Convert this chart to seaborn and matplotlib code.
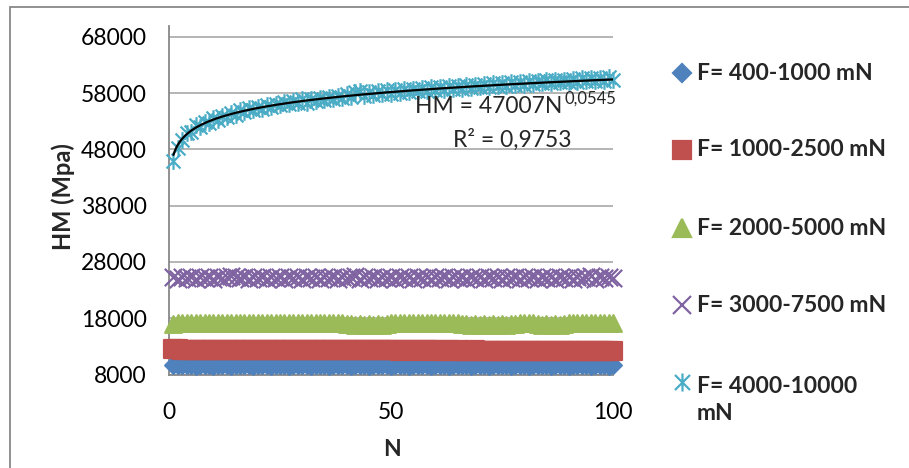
import matplotlib
matplotlib.use('Agg')
import matplotlib.pyplot as plt
from matplotlib.lines import Line2D
from matplotlib.path import Path
from matplotlib.patches import Rectangle
import numpy as np
import pandas as pd
import seaborn as sns

# cycle number
N = list(range(1, 101))

# HM (MPa), one value per cycle
hm_400_1000 = [
    9750, 9650, 9600, 9650, 9600, 9550, 9600, 9650, 9600, 9550,
    9600, 9650, 9600, 9550, 9600, 9650, 9600, 9600, 9550, 9600,
    9650, 9600, 9550, 9600, 9650, 9600, 9550, 9600, 9650, 9600,
    9600, 9550, 9600, 9650, 9600, 9550, 9600, 9650, 9600, 9600,
    9550, 9600, 9650, 9600, 9550, 9600, 9650, 9600, 9600, 9550,
    9600, 9650, 9600, 9550, 9600, 9650, 9600, 9600, 9550, 9600,
    9650, 9600, 9550, 9600, 9650, 9600, 9600, 9550, 9600, 9650,
    9600, 9550, 9600, 9650, 9600, 9600, 9550, 9600, 9650, 9600,
    9550, 9600, 9650, 9600, 9600, 9550, 9600, 9650, 9600, 9550,
    9600, 9650, 9600, 9600, 9550, 9600, 9650, 9600, 9550, 9600,
]
hm_1000_2500 = [
    12550, 12450, 12350, 12400, 12350, 12300, 12350, 12400, 12350, 12300,
    12350, 12400, 12350, 12300, 12350, 12400, 12350, 12300, 12350, 12350,
    12400, 12350, 12300, 12350, 12400, 12350, 12300, 12350, 12400, 12350,
    12300, 12350, 12400, 12350, 12300, 12350, 12350, 12400, 12350, 12300,
    12350, 12400, 12350, 12300, 12350, 12400, 12350, 12300, 12350, 12350,
    12300, 12250, 12300, 12350, 12300, 12250, 12300, 12350, 12300, 12250,
    12300, 12250, 12300, 12250, 12300, 12250, 12200, 12250, 12300, 12250,
    12200, 12250, 12200, 12150, 12200, 12250, 12200, 12150, 12200, 12150,
    12200, 12150, 12200, 12150, 12200, 12150, 12200, 12150, 12200, 12150,
    12200, 12150, 12200, 12150, 12150, 12200, 12150, 12150, 12200, 12150,
]
hm_2000_5000 = [
    17000, 17100, 17150, 17100, 17150, 17100, 17150, 17100, 17150, 17100,
    17150, 17100, 17150, 17100, 17150, 17100, 17150, 17100, 17150, 17100,
    17150, 17100, 17150, 17100, 17150, 17100, 17150, 17100, 17150, 17100,
    17150, 17100, 17150, 17100, 17150, 17100, 17150, 17100, 17150, 17050,
    16900, 16850, 16900, 16850, 16900, 16850, 16900, 16850, 16900, 17100,
    17150, 17100, 17150, 17100, 17150, 17100, 17150, 17100, 17150, 17100,
    17150, 17100, 17150, 17100, 17150, 17050, 16900, 16850, 16900, 16850,
    16900, 16850, 16900, 16850, 16900, 16850, 16900, 16950, 17100, 17150,
    17100, 17150, 16950, 16850, 16900, 16850, 16900, 16850, 16950, 17100,
    17150, 17100, 17150, 17100, 17150, 17100, 17150, 17100, 17150, 17100,
]
hm_3000_7500 = [
    25250, 25050, 25350, 25100, 25300, 25050, 25350, 25100, 25300, 25050,
    25350, 25100, 25400, 25500, 25350, 25100, 25300, 25050, 25350, 25100,
    25300, 25050, 25350, 25100, 25300, 25050, 25350, 25100, 25300, 25050,
    25350, 25100, 25300, 25050, 25350, 25100, 25300, 25050, 25350, 25100,
    25400, 25550, 24950, 25400, 25100, 25300, 25050, 25350, 25100, 25300,
    25050, 25350, 25100, 25300, 25050, 25350, 25100, 25300, 25050, 25350,
    25100, 25300, 25050, 25350, 25100, 25300, 25050, 25350, 25100, 25300,
    25050, 25350, 25100, 25300, 25050, 25350, 25100, 25300, 25050, 25350,
    25100, 25300, 25050, 25350, 25100, 25300, 25050, 25350, 25100, 25300,
    25050, 25350, 25100, 25300, 25450, 25050, 25350, 25100, 25300, 25200,
]
hm_4000_10000 = [
    45900, 48300, 49600, 50900, 51100, 52300, 51900, 52900, 52600, 53500,
    53200, 54000, 53700, 54500, 54100, 54900, 54600, 55300, 54900, 55600,
    55200, 55900, 55500, 56100, 55800, 56400, 56000, 56600, 56200, 56900,
    56300, 57000, 56500, 57200, 56800, 57300, 56900, 57500, 57100, 57800,
    57300, 58100, 58300, 57500, 58200, 57700, 58400, 57800, 58500, 57900,
    58600, 58000, 58700, 58200, 58800, 58300, 58900, 58400, 59000, 58500,
    59100, 58600, 59200, 58700, 59300, 58800, 59400, 58900, 59500, 59000,
    59600, 59100, 59700, 59200, 59800, 59300, 59900, 59400, 60000, 59500,
    60100, 59600, 60200, 59700, 60300, 59800, 60300, 59900, 60400, 60000,
    60500, 60000, 60600, 60100, 60600, 60200, 60700, 60200, 60800, 60400,
]
series_labels = ['F= 400-1000 mN', 'F= 1000-2500 mN', 'F= 2000-5000 mN',
                 'F= 3000-7500 mN', 'F= 4000-10000\nmN']

# power trendline shown on the chart
trend_a = 47007
trend_b = 0.0545
eq_main = 'HM = 47007N'
eq_exp = '0,0545'
r2_text = 'R\u00b2 = 0,9753'

x_ticks = [0, 50, 100]
y_ticks = [8000, 18000, 28000, 38000, 48000, 58000, 68000]

W, H = 909, 468
FS = 16.5

sns.set_style('white')
plt.rcParams['font.family'] = ['Lato', 'DejaVu Sans']

# excel style asterisk: an X with a vertical stroke
asterisk = Path([(-1, -1), (1, 1), (-1, 1), (1, -1), (0, -1.2), (0, 1.2)],
                [Path.MOVETO, Path.LINETO, Path.MOVETO, Path.LINETO, Path.MOVETO, Path.LINETO])

colors = ['#4F81BD', '#C0504D', '#9BBB59', '#8064A2', '#4BACC6']
markers = ['D', 's', '^', 'x', asterisk]
msizes = [8.5, 13.5, 12, 12.5, 12]
values = [hm_400_1000, hm_1000_2500, hm_2000_5000, hm_3000_7500, hm_4000_10000]

fig = plt.figure(figsize=(W / 100, H / 100), dpi=100)
ax = fig.add_axes([169 / W, 1 - 374.5 / H, 444 / W, 349 / H])

for vals, c, m, ms in zip(values, colors, markers, msizes):
    df = pd.DataFrame({'N': N, 'HM': vals})
    sns.scatterplot(data=df, x='N', y='HM', ax=ax, marker=m, s=ms ** 2,
                    color=c, edgecolor=c, linewidth=1.6, zorder=3, clip_on=False)

# trendline
nn = np.linspace(1, 100, 300)
sns.lineplot(x=nn, y=trend_a * nn ** trend_b, ax=ax, color='black', lw=1.6, zorder=4)

ax.set_xlim(0, 100)
ax.set_ylim(8000, 70000)
ax.set_xticks(x_ticks)
ax.set_yticks(y_ticks)
ax.tick_params(axis='both', length=0, labelsize=FS, colors='black')
ax.tick_params(axis='y', pad=16)
ax.tick_params(axis='x', pad=20)
ax.yaxis.grid(True, color='#a0a0a0', lw=1.1)
ax.xaxis.grid(False)
for side in ['top', 'right']:
    ax.spines[side].set_visible(False)
for side in ['left', 'bottom']:
    ax.spines[side].set_color('#888888')
    ax.spines[side].set_linewidth(1.3)

ax.set_xlabel('N', fontsize=FS, fontweight='bold')
ax.set_ylabel('HM (Mpa)', fontsize=17, fontweight='bold')
ax.xaxis.set_label_coords(0.502, -0.185)
ax.yaxis.set_label_coords(-0.212, 0.51)

# trendline equation
t1 = ax.text(55.4, 54450, eq_main, fontsize=FS, ha='left', va='baseline', zorder=5)
ax.annotate(eq_exp, xy=(1, 0), xycoords=t1, xytext=(2, 10), textcoords='offset pixels',
            fontsize=12, ha='left', va='bottom', zorder=5)
ax.text(64.0, 48500, r2_text, fontsize=FS, ha='left', va='baseline', zorder=5)

# legend on the right
rows = [73, 150, 228, 305, 382]
for lab, c, m, ms, y in zip(series_labels, colors, markers, msizes, rows):
    fig.add_artist(Line2D([682 / W], [1 - y / H], transform=fig.transFigure,
                          marker=m, ms=min(ms, 12) + 1, color=c, mec=c, mew=1.6,
                          linestyle='none'))
    if '\n' in lab:
        fig.text(697 / W, 1 - (y + 18) / H, lab, fontsize=FS, fontweight='bold',
                 ha='left', va='center', linespacing=1.4)
    else:
        fig.text(697 / W, 1 - y / H, lab, fontsize=FS, fontweight='bold',
                 ha='left', va='center')

# chart area border
fig.add_artist(Rectangle((10 / W, -0.1), 2, 1 - 7 / H + 0.1, transform=fig.transFigure,
                         fill=False, edgecolor='#888888', lw=1.3))

fig.savefig('out.png', dpi=100)
